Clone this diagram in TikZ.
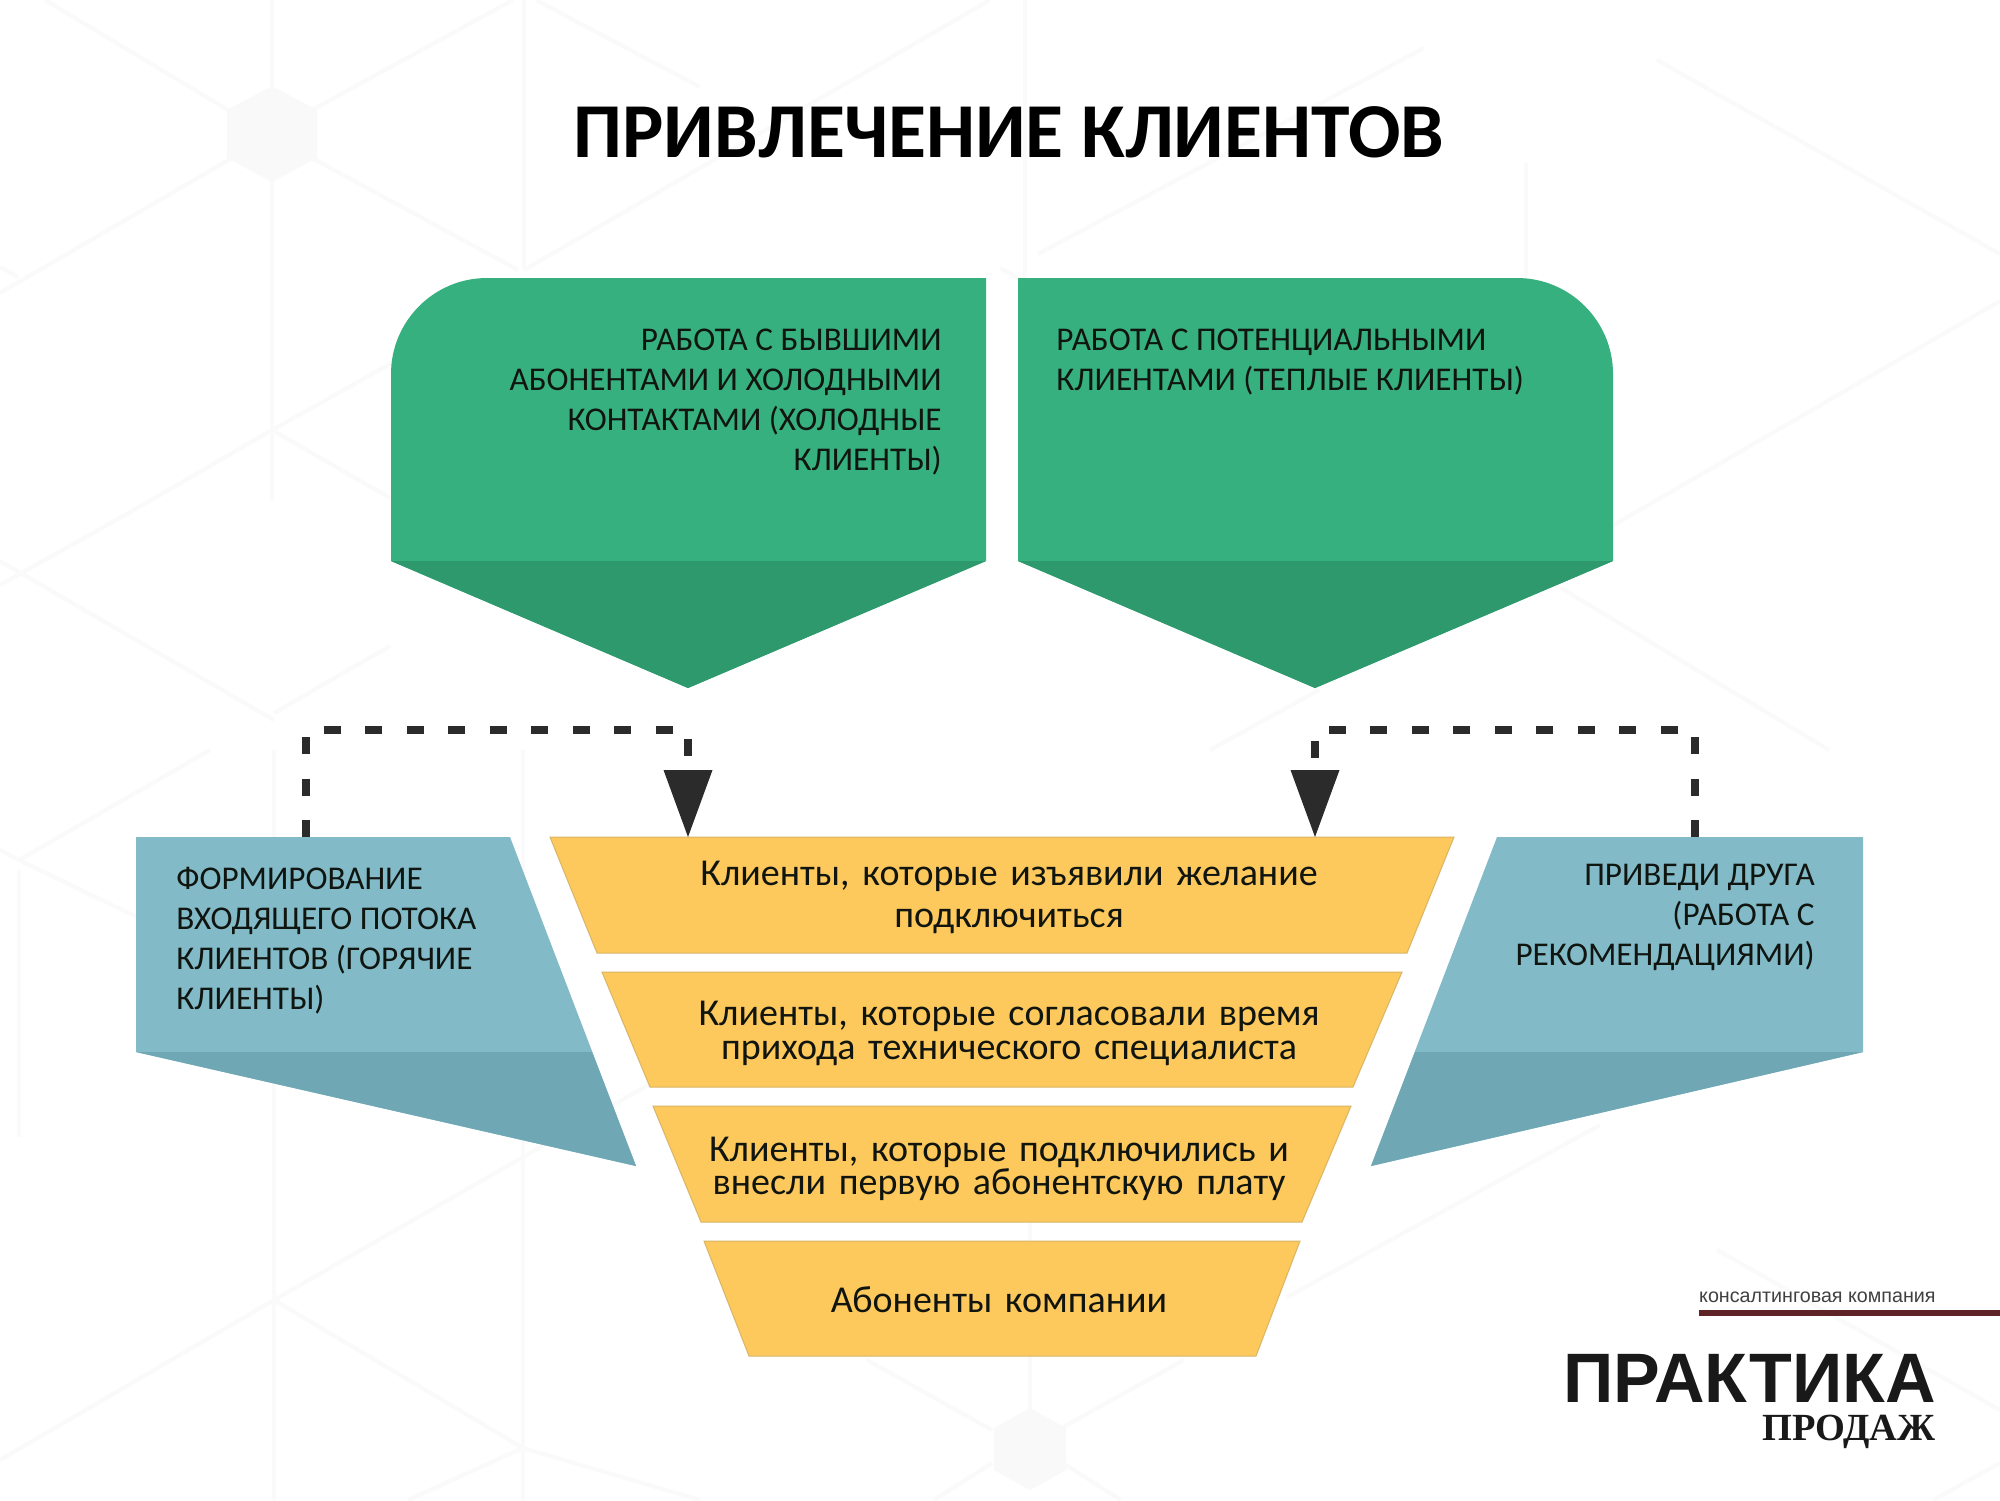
\documentclass[tikz,border=0pt]{standalone}
\usepackage{fontspec}
\setmainfont{Carlito}
\newfontfamily\logosans{Liberation Sans}
\newfontfamily\logoserif{Liberation Serif}
\usetikzlibrary{arrows.meta}
\definecolor{greenA}{HTML}{37B07F}
\definecolor{greenB}{HTML}{2D996D}
\definecolor{blueA}{HTML}{82BAC8}
\definecolor{blueB}{HTML}{6FA7B4}
\definecolor{yellowA}{HTML}{FDC85C}
\definecolor{yellowE}{HTML}{D9B566}
\definecolor{dashC}{HTML}{2B2B2B}
\definecolor{inkC}{HTML}{101510}
\definecolor{barC}{HTML}{5E2326}
\definecolor{latticeC}{HTML}{FAFAFA}
\definecolor{hexC}{HTML}{F9F9F9}
\tikzset{
  x=0.5pt,y=-0.5pt,
  lattice/.style={draw=latticeC,line width=2pt},
  yellowbar/.style={fill=yellowA,draw=yellowE,line width=0.5pt},
  bodytext/.style={inner sep=0pt,text=inkC,font=\fontsize{16.6}{20}\selectfont},
  yellowtext/.style={inner sep=0pt,align=center,text=inkC,text width=360pt},
  linkline/.style={draw=dashC,line width=4pt,dash pattern=on 8.5pt off 12.25pt,
    -{Triangle[length=33.5pt,width=24.5pt,line width=0pt,fill=dashC]}},
}
\begin{document}
\begin{tikzpicture}
\useasboundingbox (0,0) rectangle (2000,1500);
\fill[white] (0,0) rectangle (2000,1500);
% background lattice
\foreach \a/\b/\c/\d in {272/0/272/500, 274/750/274/1500, 524/0/524/270, 523/750/523/1500, 19/870/19/1137,
  1025/0/1025/282, 1526/163/1526/278, 1030/1200/1030/1450,
  45/0/228/110, 312/110/513/0, 312/158/518/270, 232/158/0/293, 536/0/700/87, 524/270/990/0, 0/267/18/277,
  272/430/487/310, 272/430/134/510, 272/430/390/498, 134/510/0/585, 0/561/274/720, 274/713/390/646,
  210/750/19/860, 0/850/19/860, 19/860/137/917,
  523/1157/274/1300, 274/1300/0/1460, 274/1300/523/1448, 523/1448/700/1500, 523/1448/408/1500, 523/1157/700/1055,
  867/1360/992/1430, 1063/1427/1184/1360, 1287/1297/1600/1125, 992/1463/934/1500, 1063/1463/1121/1500,
  1424/48/1038/254, 1000/268/1025/282, 1657/60/2000/254, 2000/301/1612/526, 1561/588/1829/750, 1319/690/1210/750,
  1717/1250/2000/1410, 2000/1463/1933/1500}{
  \draw[lattice] (\a,\b) -- (\c,\d);
}
\fill[hexC] (272,86)--(317,110)--(317,158)--(272,182)--(227,158)--(227,110)--cycle;
\fill[hexC] (1030,1408)--(1066,1428)--(1066,1470)--(1030,1490)--(994,1470)--(994,1428)--cycle;
% title
\node[inner sep=0pt,anchor=base,font=\fontsize{38.85}{42}\selectfont\bfseries] (title) at (1009,157) {ПРИВЛЕЧЕНИЕ КЛИЕНТОВ};
% green pentagons
\fill[greenA] (391,374) .. controls (391,321) and (434,278) .. (487,278) -- (986,278) -- (986,561) -- (688,688) -- (391,561) -- cycle;
\fill[greenB] (391,561) -- (986,561) -- (688,688) -- cycle;
\fill[greenA] (1018,278) -- (1517,278) .. controls (1570,278) and (1613,321) .. (1613,374) -- (1613,561) -- (1315,688) -- (1018,561) -- cycle;
\fill[greenB] (1018,561) -- (1613,561) -- (1315,688) -- cycle;
% blue shapes
\fill[blueA] (136,837) -- (510,837) -- (636,1166) -- (136,1052) -- cycle;
\fill[blueB] (136,1052) -- (592,1052) -- (636,1166) -- cycle;
\fill[blueA] (1497,837) -- (1863,837) -- (1863,1052) -- (1371,1166) -- cycle;
\fill[blueB] (1863,1052) -- (1415,1052) -- (1371,1166) -- cycle;
% funnel
\draw[yellowbar] (550,837) -- (1454,837) -- (1407,953) -- (597,953) -- cycle;
\draw[yellowbar] (602,972) -- (1402,972) -- (1353,1087) -- (650,1087) -- cycle;
\draw[yellowbar] (653,1106) -- (1351,1106) -- (1302,1222) -- (701,1222) -- cycle;
\draw[yellowbar] (704,1241) -- (1300,1241) -- (1256,1356) -- (749,1356) -- cycle;
% texts
\node[bodytext,anchor=north east,align=right] (greenL) at (942,328.5) {РАБОТА С БЫВШИМИ\\АБОНЕНТАМИ И ХОЛОДНЫМИ\\КОНТАКТАМИ (ХОЛОДНЫЕ\\КЛИЕНТЫ)};
\node[bodytext,anchor=north west,align=left] (greenR) at (1056,328.5) {РАБОТА С ПОТЕНЦИАЛЬНЫМИ\\КЛИЕНТАМИ (ТЕПЛЫЕ КЛИЕНТЫ)};
\node[bodytext,anchor=north west,align=left] (blueL) at (176,866.5) {ФОРМИРОВАНИЕ\\ВХОДЯЩЕГО ПОТОКА\\КЛИЕНТОВ (ГОРЯЧИЕ\\КЛИЕНТЫ)};
\node[bodytext,anchor=north east,align=right] (blueR) at (1815,864) {ПРИВЕДИ ДРУГА\\(РАБОТА С\\РЕКОМЕНДАЦИЯМИ)};
\node[yellowtext,font=\fontsize{19}{21}\selectfont] (y1) at (1009,897.5) {Клиенты, которые изъявили желание\\подключиться};
\node[yellowtext,font=\fontsize{19}{17}\selectfont] (y2) at (1009,1033.5) {Клиенты, которые согласовали время\\прихода технического специалиста};
\node[yellowtext,font=\fontsize{19}{16.5}\selectfont] (y3) at (999,1168.5) {Клиенты, которые подключились и\\внесли первую абонентскую плату};
\node[yellowtext,font=\fontsize{19}{21}\selectfont] (y4) at (999,1300) {Абоненты компании};
% connectors
\coordinate (srcL) at (306,837);
\coordinate (dstL) at (688,837);
\coordinate (srcR) at (1695,837);
\coordinate (dstR) at (1315,837);
\coordinate (busL) at (497,730);
\coordinate (busR) at (1505,730);
\draw[linkline] (srcL) |- (busL) -| (dstL);
\draw[linkline] (srcR) |- (busR) -| (dstR);
% logo
\node[inner sep=0pt,anchor=base east,font=\logosans\fontsize{9.85}{11}\selectfont,text=black!75] (logoA) at (1936,1302) {консалтинговая компания};
\fill[barC] (1699,1310) rectangle (2000,1316);
\node[inner sep=0pt,anchor=base east,font=\logosans\bfseries\fontsize{35}{38}\selectfont,text=black!90] (logoB) at (1936,1402) {ПРАКТИКА};
\node[inner sep=0pt,anchor=base east,font=\logoserif\bfseries\fontsize{19.2}{21}\selectfont,text=black!90] (logoC) at (1936,1440) {ПРОДАЖ};
\end{tikzpicture}
\end{document}
